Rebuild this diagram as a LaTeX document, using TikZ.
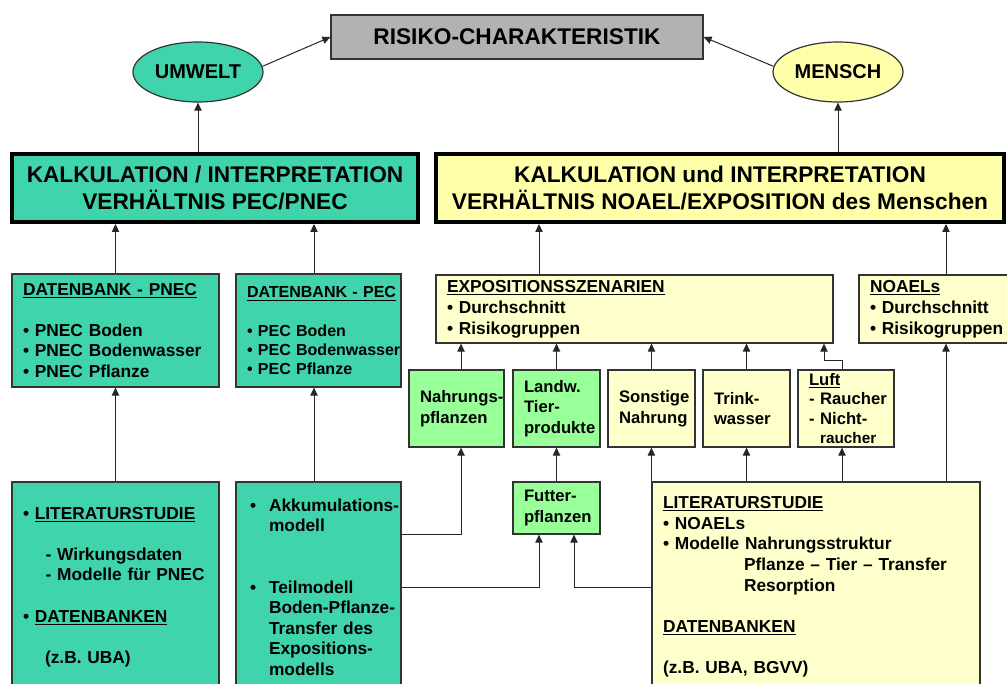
\documentclass[tikz,border=0pt]{standalone}
\usepackage{fontspec}
\setmainfont{Liberation Sans}
\usetikzlibrary{arrows.meta,shapes.geometric}

% fill colours
\definecolor{tealpat}{RGB}{64,212,172}
\definecolor{yelpat}{RGB}{255,255,170}
\definecolor{paleyel}{RGB}{255,255,204}
\definecolor{lgreen}{RGB}{153,255,153}
\definecolor{boxgray}{RGB}{178,178,178}

% fonts
\newcommand\bxfont{\bfseries\fontsize{13}{15.4}\selectfont}
\newcommand\rwfont{\bfseries\fontsize{12.5}{15.6}\selectfont}
\newcommand\kfont{\bfseries\fontsize{17}{20.3}\selectfont}
\newcommand\elfont{\bfseries\fontsize{15}{18}\selectfont}

\begin{document}
\begin{tikzpicture}[x=0.75pt, y=-0.75pt,
    box/.style={rectangle, draw=black!80, line width=0.9pt, inner xsep=8.25pt, inner ysep=0pt, align=left, font=\bxfont,
        execute at begin node={\hyphenpenalty=10000 \exhyphenpenalty=10000 }},
    rowbox/.style={box, font=\rwfont, text width=48.75pt, minimum height=57.75pt},
    bigbox/.style={rectangle, draw=black, line width=3pt, align=center, font=\kfont, minimum height=51pt},
    blob/.style={ellipse, draw=black!80, line width=0.9pt, minimum width=97.5pt, minimum height=45pt, inner sep=0pt, font=\elfont},
    arr/.style={draw=black!85, line width=0.75pt, -{Triangle[length=6pt,width=5.5pt]}}]
    \useasboundingbox (0,0) rectangle (1007,684);
    \clip (0,0) rectangle (1007,684);

    % Top: risk characterisation
    \node[rectangle, draw=black!80, line width=0.9pt, fill=boxgray, font=\kfont,
          minimum width=279pt, minimum height=33pt] (risiko) at (517,37) {RISIKO-CHARAKTERISTIK};
    \node[blob, fill=tealpat] (umwelt) at (198,72) {UMWELT};
    \node[blob, fill=yelpat] (mensch) at (838,72) {MENSCH};

    % Calculation boxes
    \node[bigbox, fill=tealpat, minimum width=304.5pt] (kalkL) at (215,188)
        {KALKULATION / INTERPRETATION\\VERHÄLTNIS PEC/PNEC};
    \node[bigbox, fill=yelpat, minimum width=426pt] (kalkR) at (720,188)
        {KALKULATION und INTERPRETATION\\VERHÄLTNIS NOAEL/EXPOSITION des Menschen};

    % Databases (environment)
    \node[box, fill=tealpat, text width=138.75pt, minimum height=84.75pt] (dbPNEC) at (115.5,330.5)
        {\underline{DATENBANK - PNEC}\\[15.4pt]
         •~PNEC~Boden\\
         •~PNEC~Bodenwasser\\
         •~PNEC~Pflanze};
    \node[box, fill=tealpat, font=\bfseries\fontsize{12}{14.3}\selectfont, text width=107.25pt,
          minimum height=84.75pt] (dbPEC) at (318.5,330.5)
        {\underline{DATENBANK - PEC}\\[14.3pt]
         •~PEC~Boden\\
         •~PEC~Bodenwasser\\
         •~PEC~Pflanze};

    % Scenarios and NOAELs (human)
    \node[box, fill=paleyel, font=\bfseries\fontsize{13}{15.75}\selectfont, text width=281.25pt,
          minimum height=51pt] (expo) at (634.5,309)
        {\underline{EXPOSITIONSSZENARIEN}\\
         •~Durchschnitt\\
         •~Risikogruppen};
    \node[box, fill=paleyel, font=\bfseries\fontsize{13}{15.75}\selectfont, text width=114pt,
          minimum height=51pt] (noael) at (946,309)
        {\underline{NOAELs}\\
         •~Durchschnitt\\
         •~Risikogruppen};

    % Exposure paths
    \node[rowbox, fill=lgreen, text width=54.75pt] (nahr) at (456.5,408.5) {Nahrungs-\\pflanzen};
    \node[rowbox, fill=lgreen] (landw) at (556.5,408.5) {Landw.\\Tier-\\produkte};
    \node[rowbox, fill=paleyel] (sonst) at (651.5,408.5) {Sonstige\\Nahrung};
    \node[rowbox, fill=paleyel] (trink) at (746.5,408.5) {Trink-\\wasser};
    \node[rowbox, fill=paleyel, text width=55.5pt, font=\bfseries\fontsize{12.5}{14.4}\selectfont] (luft) at (846,408.5)
        {\underline{Luft}\\-~Raucher\\-~Nicht-\\\phantom{-~}{\fontsize{11.5}{14.4}\selectfont raucher}};
    \node[rowbox, fill=lgreen, minimum height=39pt] (futter) at (556.5,508) {Futter-\\pflanzen};

    % Literature boxes
    \node[box, fill=tealpat, text width=138.75pt, minimum height=157.5pt] (litL) at (115.5,587)
        {•~\underline{LITERATURSTUDIE}\\[15.4pt]
         \hspace*{17pt}-~Wirkungsdaten\\
         \hspace*{17pt}-~Modelle~für~PNEC\\[15.4pt]
         •~\underline{DATENBANKEN}\\[15.4pt]
         \hspace*{16.5pt}(z.B.~UBA)};
    \node[box, fill=tealpat, inner xsep=10.5pt, text width=102.75pt, minimum height=157.5pt] (akku) at (318.5,587)
        {\makebox[14.25pt][l]{•}Akkumulations-\\
         \hspace*{14.25pt}modell\\[30.8pt]
         \makebox[14.25pt][l]{•}Teilmodell\\
         \hspace*{14.25pt}Boden-Pflanze-\\
         \hspace*{14.25pt}Transfer~des\\
         \hspace*{14.25pt}Expositions-\\
         \hspace*{14.25pt}modells};
    \node[box, fill=paleyel, font=\bfseries\fontsize{13}{15.5}\selectfont, text width=229.5pt,
          minimum height=157.5pt] (litR) at (816,587)
        {\underline{LITERATURSTUDIE}\\
         •~NOAELs\\
         •~Modelle~Nahrungsstruktur\\
         \hspace*{60.75pt}Pflanze~–~Tier~–~Transfer\\
         \hspace*{60.75pt}Resorption\\[15.5pt]
         \underline{DATENBANKEN}\\[15.5pt]
         (z.B.~UBA,~BGVV)};

    % x positions of some connectors
    \coordinate (xpec) at (314,0);
    \coordinate (xexp) at (539,0);
    \coordinate (xna) at (461,0);
    \coordinate (xla) at (842,361);
    \coordinate (xlb) at (824,361);
    \coordinate (xfa) at (539,0);
    \coordinate (xfb) at (574,0);

    % Top level arrows
    \draw[arr] (umwelt.5) -- (risiko.west);
    \draw[arr] (mensch.175) -- (risiko.east);
    \draw[arr] (kalkL.north -| umwelt.south) -- (umwelt.south);
    \draw[arr] (kalkR.north -| mensch.south) -- (mensch.south);

    % Into the calculation boxes
    \draw[arr] (dbPNEC.north) -- (dbPNEC.north |- kalkL.south);
    \draw[arr] (dbPEC.north -| xpec) -- (kalkL.south -| xpec);
    \draw[arr] (expo.north -| xexp) -- (kalkR.south -| xexp);
    \draw[arr] (noael.north) -- (noael.north |- kalkR.south);
    \draw[arr] (litL.north) -- (dbPNEC.south);
    \draw[arr] (akku.north -| xpec) -- (dbPEC.south -| xpec);

    % Exposure paths
    \draw[arr] (nahr.north -| xna) -- (expo.south -| xna);
    \foreach \n in {landw,sonst,trink}
        \draw[arr] (\n.north) -- (\n.north |- expo.south);
    \draw[arr] (luft.north -| xla) -- (xla) -| (expo.south -| xlb);
    \draw[arr] (futter.north) -- (landw.south);
    \draw[arr] (akku.east |- futter.south) -| (nahr.south -| xna);
    \draw[arr] (akku.east) -| (futter.south -| xfa);
    \draw[arr] (litR.west) -| (futter.south -| xfb);
    \draw[arr] (litR.north west) -- (litR.north west |- sonst.south);
    \draw[arr] (litR.north -| trink.south) -- (trink.south);
    \draw[arr] (litR.north -| xla) -- (luft.south -| xla);
    \draw[arr] (litR.north -| noael.south) -- (noael.south);
\end{tikzpicture}
\end{document}
